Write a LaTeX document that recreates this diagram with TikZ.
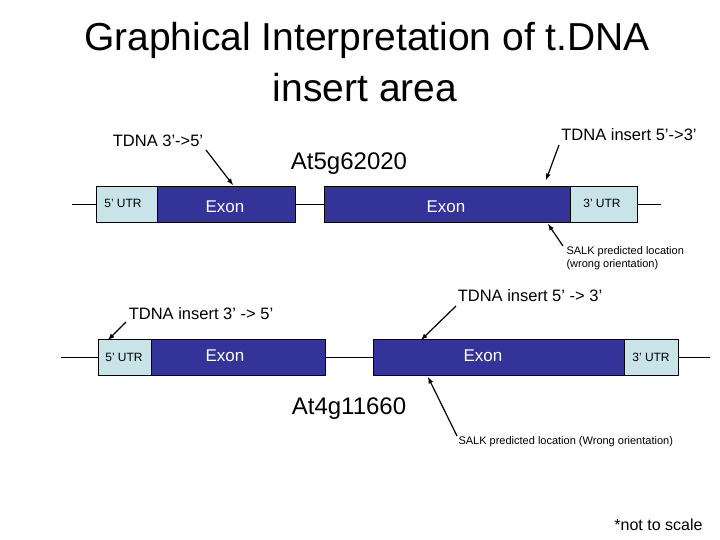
\documentclass[tikz,border=0pt]{standalone}
\usepackage{fontspec}
\setmainfont{Liberation Sans}
\definecolor{exonc}{RGB}{51,51,153}
\definecolor{utrc}{RGB}{200,228,232}
\begin{document}
\begin{tikzpicture}[x=1pt,y=-1pt,
 exonbox/.style={draw=black,fill=exonc,line width=0.6pt},
 utrbox/.style={draw=black,fill=utrc,line width=0.6pt},
 exontxt/.style={text=white,font=\fontsize{17}{20}\selectfont},
 utrtxt/.style={font=\fontsize{12}{14}\selectfont},
 lbl/.style={font=\fontsize{16.5}{19}\selectfont},
 small/.style={font=\fontsize{11}{13}\selectfont,align=left},
 gname/.style={font=\fontsize{24}{28}\selectfont},
 titl/.style={font=\fontsize{39}{44}\selectfont},
 arr/.style={-latex,line width=1.2pt},
 wire/.style={line width=0.8pt}]
\useasboundingbox (0,0) rectangle (720,540);
\node[titl] (t1) at (367,40) {Graphical Interpretation of t.DNA};
\node[titl] (t2) at (365,88) {insert area};
% gene 1
\draw[wire] (72,204) -- (96,204);
\draw[wire] (295,204) -- (324,204);
\draw[wire] (637,204) -- (661,204);
\draw[utrbox] (96,186) rectangle (157,222);
\draw[exonbox] (157,186) rectangle (295,222);
\draw[exonbox] (324,186) rectangle (570,222);
\draw[utrbox] (570,186) rectangle (637,222);
\node[utrtxt] at (123,203) {5’ UTR};
\node[exontxt] at (225,207) {Exon};
\node[exontxt] at (446,207) {Exon};
\node[utrtxt] at (602,203) {3’ UTR};
\node[gname] (g1) at (349,164) {At5g62020};
\node[lbl] (a1) at (158,141) {TDNA 3’->5’};
\coordinate (a1t) at (233,185);
\draw[arr] (206,150) -- (a1t);
\node[lbl] (b1) at (629,135) {TDNA insert 5’->3’};
\coordinate (b1t) at (546,180);
\draw[arr] (559,145) -- (b1t);
\node[small,anchor=west] (s1) at (563,258) {SALK predicted location\\(wrong orientation)};
\coordinate (s1t) at (548,224);
\draw[arr] (563,246) -- (s1t);
% gene 2
\draw[wire] (61,357) -- (98,357);
\draw[wire] (325,357) -- (373,357);
\draw[wire] (678,357) -- (710,357);
\draw[utrbox] (98,339) rectangle (151,375);
\draw[exonbox] (151,339) rectangle (325,375);
\draw[exonbox] (373,339) rectangle (624,375);
\draw[utrbox] (624,339) rectangle (678,375);
\node[utrtxt] at (124,357) {5’ UTR};
\node[exontxt] at (225,356) {Exon};
\node[exontxt] at (483,356) {Exon};
\node[utrtxt] at (651,357) {3’ UTR};
\node[gname] (g2) at (349,409) {At4g11660};
\node[lbl] (a2) at (201,314) {TDNA insert 3’ -> 5’};
\coordinate (a2t) at (108,340);
\draw[arr] (126,322) -- (a2t);
\node[lbl] (b2) at (530,296) {TDNA insert 5’ -> 3’};
\coordinate (b2t) at (421,340);
\draw[arr] (456,306) -- (b2t);
\node[small,anchor=west] (s2) at (455,442) {SALK predicted location (Wrong orientation)};
\coordinate (s2t) at (428,377);
\draw[arr] (457,436) -- (s2t);
\node[anchor=east,font=\fontsize{16}{19}\selectfont] (ns) at (706,525) {*not to scale};
\end{tikzpicture}
\end{document}
